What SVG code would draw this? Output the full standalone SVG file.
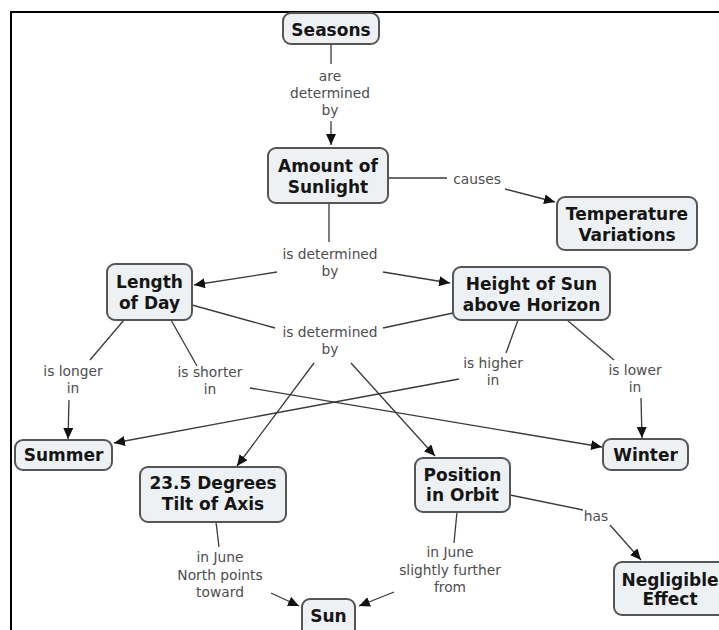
<svg xmlns="http://www.w3.org/2000/svg" width="719" height="630" viewBox="0 0 719 630">
  <style>
    .box { fill: #eef1f4; stroke: #555; stroke-width: 2; }
    .nt { font-family: "DejaVu Sans", Verdana, sans-serif; font-weight: bold; font-size: 17px; fill: #151515; text-anchor: middle; }
    .lt { font-family: "DejaVu Sans", Verdana, sans-serif; font-size: 13.8px; fill: #4d4d4d; text-anchor: middle; }
    .ln { stroke: #3a3a3a; stroke-width: 1.3; fill: none; }
    .ar { marker-end: url(#arrow); }
    .frame { stroke: #000; stroke-width: 2; fill: none; }
  </style>
  <defs>
    <marker id="arrow" markerUnits="userSpaceOnUse" markerWidth="12" markerHeight="10" refX="11" refY="5" orient="auto">
      <path d="M0,0 L11,5 L0,10 z" fill="#111"/>
    </marker>
  </defs>

  <rect width="719" height="630" fill="#fff"/>
  <!-- frame edges -->
  <path class="frame" d="M11,630 L11,12 L719,12"/>

  <g id="connectors">
    <!-- Seasons -> Amount of Sunlight -->
    <line class="ln" x1="331" y1="44" x2="331" y2="64"/>
    <line class="ln ar" x1="331" y1="121" x2="331" y2="145"/>
    <text class="lt"><tspan x="330" y="81">are</tspan><tspan x="330" y="98">determined</tspan><tspan x="330" y="115">by</tspan></text>

    <!-- Amount of Sunlight -> Temperature Variations -->
    <line class="ln" x1="388" y1="178" x2="447" y2="178"/>
    <line class="ln ar" x1="505" y1="189" x2="555" y2="202"/>
    <text class="lt" x="477" y="184">causes</text>

    <!-- Amount of Sunlight -> Length of Day / Height of Sun -->
    <line class="ln" x1="329" y1="203" x2="329" y2="242"/>
    <line class="ln ar" x1="277" y1="272" x2="194" y2="285"/>
    <line class="ln ar" x1="383" y1="272" x2="450" y2="283"/>
    <text class="lt"><tspan x="330" y="259">is determined</tspan><tspan x="330" y="276">by</tspan></text>

    <!-- Length of Day / Height of Sun -> 23.5 Degrees / Position in Orbit -->
    <line class="ln" x1="192" y1="305" x2="275" y2="328"/>
    <line class="ln" x1="453" y1="313" x2="383" y2="328"/>
    <line class="ln ar" x1="314" y1="363" x2="237" y2="466"/>
    <line class="ln ar" x1="351" y1="363" x2="435" y2="456"/>
    <text class="lt"><tspan x="330" y="337">is determined</tspan><tspan x="330" y="354">by</tspan></text>

    <!-- Length of Day -> Summer -->
    <line class="ln" x1="124" y1="320" x2="90" y2="360"/>
    <line class="ln ar" x1="69" y1="400" x2="68" y2="439"/>
    <text class="lt"><tspan x="73" y="376">is longer</tspan><tspan x="73" y="393">in</tspan></text>

    <!-- Length of Day -> Winter -->
    <line class="ln" x1="171" y1="320" x2="197" y2="366"/>
    <line class="ln ar" x1="250" y1="388" x2="602" y2="447"/>
    <text class="lt"><tspan x="210" y="377">is shorter</tspan><tspan x="210" y="394">in</tspan></text>

    <!-- Height of Sun -> Summer -->
    <line class="ln" x1="518" y1="320" x2="506" y2="353"/>
    <line class="ln ar" x1="459" y1="379" x2="114" y2="443"/>
    <text class="lt"><tspan x="493" y="368">is higher</tspan><tspan x="493" y="385">in</tspan></text>

    <!-- Height of Sun -> Winter -->
    <line class="ln" x1="567" y1="320" x2="614" y2="360"/>
    <line class="ln ar" x1="641" y1="398" x2="642" y2="438"/>
    <text class="lt"><tspan x="635" y="375">is lower</tspan><tspan x="635" y="392">in</tspan></text>

    <!-- 23.5 Degrees -> Sun -->
    <line class="ln" x1="216" y1="522" x2="219" y2="547"/>
    <line class="ln ar" x1="271" y1="593" x2="299" y2="606"/>
    <text class="lt"><tspan x="220" y="562">in June</tspan><tspan x="220" y="580">North points</tspan><tspan x="220" y="597">toward</tspan></text>

    <!-- Position in Orbit -> Sun -->
    <line class="ln" x1="457" y1="512" x2="454" y2="543"/>
    <line class="ln ar" x1="394" y1="592" x2="359" y2="606"/>
    <text class="lt"><tspan x="450" y="557">in June</tspan><tspan x="450" y="575">slightly further</tspan><tspan x="450" y="592">from</tspan></text>

    <!-- Position in Orbit -> Negligible Effect -->
    <line class="ln" x1="510" y1="495" x2="583" y2="510"/>
    <line class="ln ar" x1="610" y1="525" x2="641" y2="560"/>
    <text class="lt" x="596" y="521">has</text>
  </g>

  <g id="seasons">
    <rect class="box" x="283" y="13" width="96" height="31" rx="8"/>
    <text class="nt" x="331" y="36">Seasons</text>
  </g>
  <g id="amount-of-sunlight">
    <rect class="box" x="268" y="148" width="120" height="55" rx="8"/>
    <text class="nt"><tspan x="328" y="172">Amount of</tspan><tspan x="328" y="193">Sunlight</tspan></text>
  </g>
  <g id="temperature-variations">
    <rect class="box" x="557" y="197" width="140" height="53" rx="8"/>
    <text class="nt"><tspan x="627" y="220">Temperature</tspan><tspan x="627" y="241">Variations</tspan></text>
  </g>
  <g id="length-of-day">
    <rect class="box" x="107" y="264" width="85" height="56" rx="8"/>
    <text class="nt"><tspan x="149.5" y="288">Length</tspan><tspan x="149.5" y="309">of Day</tspan></text>
  </g>
  <g id="height-of-sun">
    <rect class="box" x="453" y="267" width="157" height="53" rx="8"/>
    <text class="nt"><tspan x="531.5" y="290">Height of Sun</tspan><tspan x="531.5" y="311">above Horizon</tspan></text>
  </g>
  <g id="summer">
    <rect class="box" x="15" y="440" width="97" height="30" rx="8"/>
    <text class="nt" x="63.5" y="461">Summer</text>
  </g>
  <g id="winter">
    <rect class="box" x="603" y="439" width="85" height="31" rx="8"/>
    <text class="nt" x="645.5" y="461">Winter</text>
  </g>
  <g id="tilt-of-axis">
    <rect class="box" x="140" y="467" width="146" height="55" rx="8"/>
    <text class="nt"><tspan x="213" y="489">23.5 Degrees</tspan><tspan x="213" y="510">Tilt of Axis</tspan></text>
  </g>
  <g id="position-in-orbit">
    <rect class="box" x="415" y="458" width="95" height="54" rx="8"/>
    <text class="nt"><tspan x="462.5" y="481">Position</tspan><tspan x="462.5" y="501">in Orbit</tspan></text>
  </g>
  <g id="negligible-effect">
    <rect class="box" x="614" y="562" width="112" height="53" rx="8"/>
    <text class="nt"><tspan x="670" y="586">Negligible</tspan><tspan x="670" y="605">Effect</tspan></text>
  </g>
  <g id="sun">
    <rect class="box" x="302" y="599" width="53" height="38" rx="8"/>
    <text class="nt" x="328.5" y="622">Sun</text>
  </g>
</svg>
